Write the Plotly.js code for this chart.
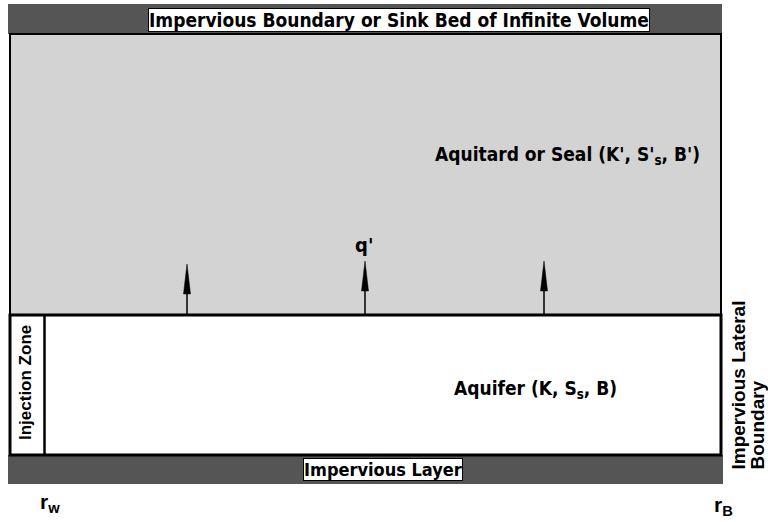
<!DOCTYPE html>
<html>
<head>
<meta charset="utf-8">
<script src="https://cdn.plot.ly/plotly-3.0.1.min.js"></script>
<style>html,body{margin:0;padding:0;background:#fff;}#chart{width:768px;height:522px;}</style>
</head>
<body>
<div id="chart"></div>
<script>
// ---- diagram content (labels) ----
const boundaryLabels = ["Impervious Boundary or Sink Bed of Infinite Volume", "Impervious Layer"];
const layerLabels = ["Aquitard or Seal (K', S'<sub>s</sub>, B')", "Aquifer (K, S<sub>s</sub>, B)"];
const sideLabels = ["Injection Zone", "Impervious Lateral<br>Boundary"];
const fluxLabel = ["q'"];
const radiusLabels = ["r<sub>w</sub>", "r<sub>B</sub>"];
// radial positions at which leakage q' is drawn
const leakageArrowR = [187, 365, 544];

// ---- geometry / style ----
const NARROW = "DejaVu Sans Condensed, Liberation Sans Narrow, Liberation Sans, Arial, sans-serif";
const WIDE = "Liberation Sans, Arial, sans-serif";
const DARK = '#555555', LIGHT = '#d3d3d3';
const X0 = 10, X1 = 721, Y_TOP = 34, Y_MID = 315, Y_BOT = 455;

const shapes = [];
// top dark band
shapes.push({type:'rect', xref:'x', yref:'y', x0:8, x1:722, y0:4, y1:Y_TOP, fillcolor:DARK, line:{width:0}, layer:'below'});
// bottom dark band
shapes.push({type:'rect', xref:'x', yref:'y', x0:8, x1:723, y0:Y_BOT, y1:484, fillcolor:DARK, line:{width:0}, layer:'below'});
// aquitard
shapes.push({type:'rect', xref:'x', yref:'y', x0:X0, x1:X1, y0:Y_TOP, y1:Y_MID, fillcolor:LIGHT, line:{color:'#000', width:2}, layer:'below'});
// aquifer
shapes.push({type:'rect', xref:'x', yref:'y', x0:X0, x1:X1, y0:Y_MID, y1:Y_BOT, fillcolor:'#ffffff', line:{color:'#000', width:3}, layer:'below'});
// injection zone divider
shapes.push({type:'line', xref:'x', yref:'y', x0:44.5, x1:44.5, y0:Y_MID, y1:Y_BOT, line:{color:'#000', width:2.5}, layer:'below'});
// leakage arrows
leakageArrowR.forEach(function(r, i){
  const tip = i === 0 ? 264 : 261;
  shapes.push({type:'line', xref:'x', yref:'y', x0:r, x1:r, y0:Y_MID, y1:tip + 28, line:{color:'#000', width:1.5}});
  shapes.push({type:'path', xref:'x', yref:'y',
    path:'M ' + (r - 3.5) + ',' + (tip + 30) + ' L ' + r + ',' + tip + ' L ' + (r + 3.5) + ',' + (tip + 30) + ' Z',
    fillcolor:'#000', line:{color:'#000', width:0.5}});
});

const lateralLines = sideLabels[1].split('<br>');

const annotations = [
  {x:399, y:19.5, text:boundaryLabels[0], font:{family:NARROW, size:19, color:'#000', weight:'bold'},
   bgcolor:'#fff', bordercolor:'#000', borderwidth:1, borderpad:0},
  {x:383, y:469, text:boundaryLabels[1], font:{family:NARROW, size:18, color:'#000', weight:'bold'},
   bgcolor:'#fff', bordercolor:'#000', borderwidth:1, borderpad:0},
  {x:567, y:155, text:layerLabels[0], font:{family:NARROW, size:19, color:'#000', weight:'bold'}},
  {x:535, y:389, text:layerLabels[1], font:{family:NARROW, size:19, color:'#000', weight:'bold'}},
  {x:364, y:245, text:fluxLabel[0], font:{family:NARROW, size:20, color:'#000', weight:'bold'}},
  {x:25, y:383, text:sideLabels[0], textangle:-90, font:{family:WIDE, size:17, color:'#000', weight:'bold'}},
  {x:738, y:472, yanchor:'bottom', text:lateralLines[0], textangle:-90, font:{family:WIDE, size:19, color:'#000', weight:'bold'}},
  {x:757, y:472, yanchor:'bottom', text:lateralLines[1], textangle:-90, font:{family:WIDE, size:19, color:'#000', weight:'bold'}},
  {x:50, y:503, text:radiusLabels[0], font:{family:WIDE, size:21, color:'#000', weight:'bold'}},
  {x:723, y:506, text:radiusLabels[1], font:{family:WIDE, size:21, color:'#000', weight:'bold'}}
].map(function(a){ return Object.assign({xref:'x', yref:'y', showarrow:false, xanchor:'center', yanchor:'middle'}, a); });

const layout = {
  width:768, height:522,
  margin:{l:0, r:0, t:0, b:0},
  paper_bgcolor:'#ffffff', plot_bgcolor:'#ffffff',
  showlegend:false,
  xaxis:{range:[0,768], visible:false, fixedrange:true},
  yaxis:{range:[522,0], visible:false, fixedrange:true},
  shapes:shapes,
  annotations:annotations
};

Plotly.newPlot('chart', [{x:[], y:[], type:'scatter', mode:'markers', hoverinfo:'skip'}], layout, {staticPlot:true, displayModeBar:false});
</script>
</body>
</html>
